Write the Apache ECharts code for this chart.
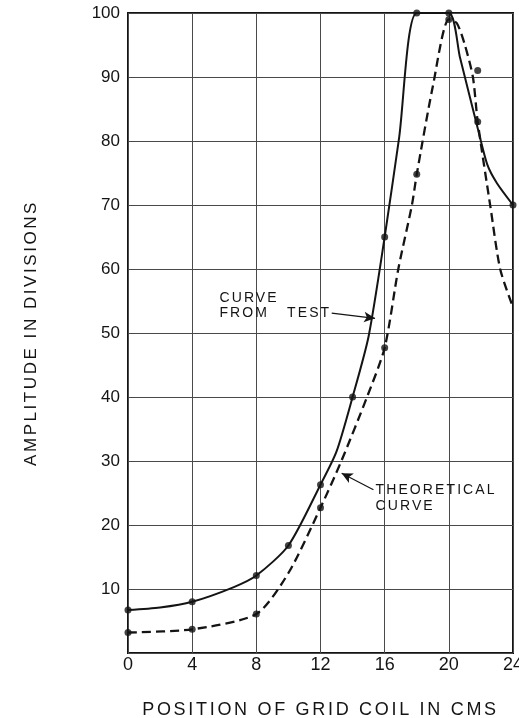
<!DOCTYPE html>
<html>
<head>
<meta charset="utf-8">
<script src="https://cdn.jsdelivr.net/npm/echarts@6/dist/echarts.min.js"></script>
<style>
  html, body { margin: 0; padding: 0; background: #ffffff; }
  #chart { width: 519px; height: 718px; }
</style>
</head>
<body>
<div id="chart"></div>
<script>
// ---- data ----
const xTicks = [0, 4, 8, 12, 16, 20, 24];
const yTicks = [10, 20, 30, 40, 50, 60, 70, 80, 90, 100];

// solid curve ("curve from test")
const testCurveX = [0, 2, 4, 6.6, 8, 10, 12, 13, 14, 15, 16, 16.9, 18, 20, 20.7, 21.8, 22.4, 23, 24];
const testCurveY = [6.7, 7.1, 8, 10.3, 12.1, 16.8, 26.3, 31.5, 40, 49.5, 65, 80.5, 100, 100, 93, 82, 76.3, 73.4, 70];
// plotted test points
const testDotsX = [0, 4, 8, 10, 12, 14, 16, 18, 20, 24];
const testDotsY = [6.7, 8, 12.1, 16.8, 26.3, 40, 65, 100, 100, 70];

// dashed curve ("theoretical curve")
const theoCurveX = [0, 4, 8, 10, 12, 13.3, 14.9, 16, 16.85, 17.7, 18, 19, 20, 20.5, 21, 21.5, 21.8, 22.6, 23.2, 24];
const theoCurveY = [3.2, 3.7, 6.1, 12.5, 22.7, 30, 40, 47.7, 60, 70, 74.8, 88.5, 99, 98.4, 95, 90, 83, 69.6, 60, 54];
// plotted theoretical points
const theoDotsX = [0, 4, 8, 12, 16, 18, 20, 21.8, 21.8];
const theoDotsY = [3.2, 3.7, 6.1, 22.7, 47.7, 74.8, 99, 91, 83];

// annotations (data coordinates)
const labelTest = { text: 'CURVE\nFROM   TEST', at: [5.67, 54.3] };
const arrowTest = [[12.7, 53.1], [15.4, 52.3]];
const labelTheo = { text: 'THEORETICAL\nCURVE', at: [15.4, 24.2] };
const arrowTheo = [[15.3, 25.5], [13.32, 28.1]];

const xTitle = 'POSITION OF GRID COIL IN CMS';
const yTitle = 'AMPLITUDE IN DIVISIONS';

// ---- letter spacing for the spaced capital lettering (words only, not numbers) ----
(function () {
  const proto = CanvasRenderingContext2D.prototype;
  const orig = proto.fillText;
  proto.fillText = function (t, x, y, m) {
    const s = String(t);
    if (/[A-Z]/.test(s) && 'letterSpacing' in this) {
      const mm = (this.font || '').match(/([\d.]+)px/);
      const size = mm ? parseFloat(mm[1]) : 14;
      const prev = this.letterSpacing;
      this.letterSpacing = (size * 0.15).toFixed(2) + 'px';
      if (m === undefined) orig.call(this, t, x, y); else orig.call(this, t, x, y, m);
      this.letterSpacing = prev;
    } else {
      if ('letterSpacing' in this) this.letterSpacing = '0px';
      if (m === undefined) orig.call(this, t, x, y); else orig.call(this, t, x, y, m);
    }
  };
})();

const zip = (xs, ys) => xs.map((x, i) => [x, ys[i]]);
const INK = '#141414';
const capFont = 'Liberation Sans';

const chart = echarts.init(document.getElementById('chart'), null, { renderer: 'canvas' });

chart.setOption({
  animation: false,
  backgroundColor: '#ffffff',
  textStyle: { fontFamily: 'Liberation Sans' },
  grid: {
    left: 128, right: 6, top: 13, bottom: 65,
    outerBoundsMode: 'none', containLabel: false,
    show: true, borderColor: INK, borderWidth: 2, backgroundColor: 'transparent'
  },
  xAxis: {
    type: 'value', min: 0, max: 24, interval: 4,
    name: xTitle, nameLocation: 'middle', nameGap: 48,
    nameTextStyle: { fontFamily: capFont, fontSize: 18, color: INK },
    axisLine: { show: false },
    axisTick: { show: false },
    axisLabel: {
      margin: 3, fontSize: 18, color: INK, fontFamily: 'Liberation Sans',
      formatter: v => (xTicks.indexOf(v) >= 0 ? String(v) : '')
    },
    splitLine: { show: true, lineStyle: { color: '#4a4a4a', width: 1 } }
  },
  yAxis: {
    type: 'value', min: 0, max: 100, interval: 10,
    name: yTitle, nameLocation: 'middle', nameGap: 88, nameRotate: 90,
    nameTextStyle: { fontFamily: capFont, fontSize: 17, color: INK },
    axisLine: { show: false },
    axisTick: { show: false },
    axisLabel: {
      margin: 8, fontSize: 17, color: INK, fontFamily: 'Liberation Sans',
      formatter: v => (yTicks.indexOf(v) >= 0 ? String(v) : '')
    },
    splitLine: { show: true, lineStyle: { color: '#4a4a4a', width: 1 } }
  },
  series: [
    {
      name: 'Curve from test', type: 'line', data: zip(testCurveX, testCurveY),
      smooth: 0.25, symbol: 'none',
      lineStyle: { color: INK, width: 2 }, z: 3,
      markLine: {
        silent: true, symbol: ['none', 'arrow'], symbolSize: [8, 11],
        lineStyle: { color: INK, width: 1.2, type: 'solid' },
        itemStyle: { color: INK },
        label: { show: false },
        data: [
          [{ coord: arrowTest[0] }, { coord: arrowTest[1] }],
          [{ coord: arrowTheo[0] }, { coord: arrowTheo[1] }]
        ]
      },
      markPoint: {
        silent: true, symbol: 'rect', symbolSize: 1,
        itemStyle: { color: 'rgba(0,0,0,0)' },
        label: {
          show: true, position: 'right', distance: 0,
          fontFamily: capFont, fontSize: 14, color: INK, lineHeight: 16
        },
        data: [
          { coord: labelTest.at, value: 0, label: { formatter: labelTest.text, lineHeight: 15.6 } },
          { coord: labelTheo.at, value: 0, label: { formatter: labelTheo.text, lineHeight: 16.7 } }
        ]
      }
    },
    {
      name: 'Theoretical curve', type: 'line', data: zip(theoCurveX, theoCurveY),
      smooth: 0.25, symbol: 'none',
      lineStyle: { color: INK, width: 2.3, type: [9, 5] }, z: 3
    },
    {
      name: 'Test points', type: 'scatter', data: zip(testDotsX, testDotsY),
      symbol: 'circle', symbolSize: 7, itemStyle: { color: INK }, z: 4, clip: false
    },
    {
      name: 'Theoretical points', type: 'scatter', data: zip(theoDotsX, theoDotsY),
      symbol: 'circle', symbolSize: 7, itemStyle: { color: INK }, z: 4, clip: false
    }
  ]
});
</script>
</body>
</html>
